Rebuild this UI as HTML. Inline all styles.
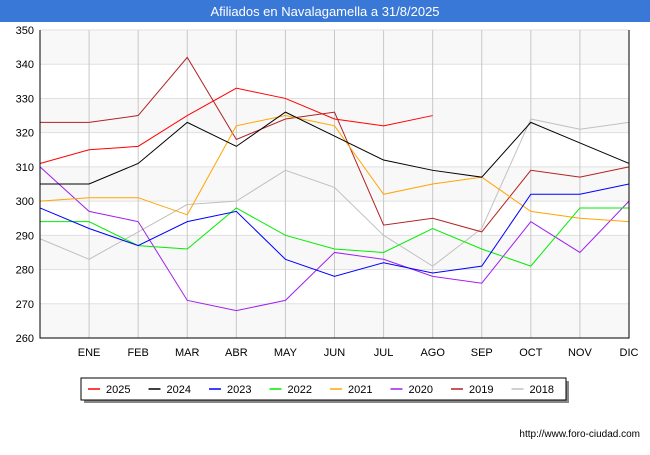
<!DOCTYPE html>
<html><head><meta charset="utf-8"><style>
body{margin:0;background:#fff;font-family:"Liberation Sans",sans-serif;}
</style></head><body>
<svg width="650" height="450" xmlns="http://www.w3.org/2000/svg" font-family="Liberation Sans, sans-serif">
<rect x="0" y="0" width="650" height="22" fill="#3a78d8"/>
<text x="325" y="16" text-anchor="middle" fill="#fff" font-size="13">Afiliados en Navalagamella a 31/8/2025</text>
<g id="grid"></g><g id="series"></g><g id="axes"></g>
<rect x="84" y="381" width="485" height="22" fill="#888"/>
<rect x="81" y="378" width="485" height="22" fill="#fff" stroke="#000"/>
<g id="legend"></g>
<text x="640" y="437" text-anchor="end" font-size="10" fill="#000">http://www.foro-ciudad.com</text>
</svg>
<script>
const months=["","ENE","FEB","MAR","ABR","MAY","JUN","JUL","AGO","SEP","OCT","NOV","DIC"];
const yTicks=[260,270,280,290,300,310,320,330,340,350];
const years=["2025","2024","2023","2022","2021","2020","2019","2018"];
const colors=["#ff0000","#000000","#0000ff","#00ee00","#ffa500","#a020f0","#b22222","#c0c0c0"];
const s2025=[311,315,316,325,333,330,324,322,325];
const s2024=[305,305,311,323,316,326,319,312,309,307,323,317,311];
const s2023=[298,292,287,294,297,283,278,282,279,281,302,302,305];
const s2022=[294,294,287,286,298,290,286,285,292,286,281,298,298];
const s2021=[300,301,301,296,322,325,322,302,305,307,297,295,294];
const s2020=[310,297,294,271,268,271,285,283,278,276,294,285,300];
const s2019=[323,323,325,342,318,324,326,293,295,291,309,307,310];
const s2018=[289,283,291,299,300,309,304,290,281,292,324,321,323];
const data=[s2025,s2024,s2023,s2022,s2021,s2020,s2019,s2018];
const X0=40,X1=629,Y0=338,Y1=30;
const x=i=>X0+(X1-X0)*i/12;
const y=v=>Y0-(v-260)*(Y0-Y1)/90;
const NS="http://www.w3.org/2000/svg";
function mk(tag,attrs,parent){const e=document.createElementNS(NS,tag);for(const k in attrs)e.setAttribute(k,attrs[k]);parent.appendChild(e);return e;}
const g=document.getElementById('grid'),ax=document.getElementById('axes'),sg=document.getElementById('series'),lg=document.getElementById('legend');
for(let i=0;i<yTicks.length-1;i++){
 const b=mk('rect',{x:X0,y:y(yTicks[i+1]),width:X1-X0,height:y(yTicks[i])-y(yTicks[i+1]),fill:i%2==0?'#f8f8f8':'#fff'},g);
 
 
}
yTicks.forEach(v=>{
 const l=mk('line',{x1:X0,x2:X1,y1:y(v),y2:y(v),stroke:'#e0e0e0'},g);
 
 
 const t=mk('text',{x:X0-6,y:y(v)+4,'text-anchor':'end','font-size':11,fill:'#000'},ax);
 t.textContent=v;
 
 
});
months.forEach((m,i)=>{
 if(i>0){const l=mk('line',{x1:x(i),x2:x(i),y1:Y1,y2:Y0,stroke:'#c8c8c8'},g);
 
 }
 const t=mk('text',{x:x(i),y:356,'text-anchor':'middle','font-size':11,fill:'#000'},ax);
 t.textContent=m;
 
 
});
const a=mk('path',{d:`M${X0},${Y1}V${Y0}H${X1}V${Y1}`,fill:'none',stroke:'#000','stroke-width':1},ax);


for(let k=data.length-1;k>=0;k--){
 const p=mk('polyline',{points:data[k].map((v,i)=>x(i)+','+y(v)).join(' '),fill:'none',stroke:colors[k],'stroke-width':1},sg);
 
 
}
years.forEach((yr,k)=>{
 const lx=88+k*60.5;
 const l=mk('line',{x1:lx,x2:lx+12,y1:389,y2:389,stroke:colors[k],'stroke-width':1.5},lg);
 
 
 const t=mk('text',{x:lx+18,y:393,'font-size':11,fill:'#000'},lg);
 t.textContent=yr;
 
 
});
</script>
</body></html>
